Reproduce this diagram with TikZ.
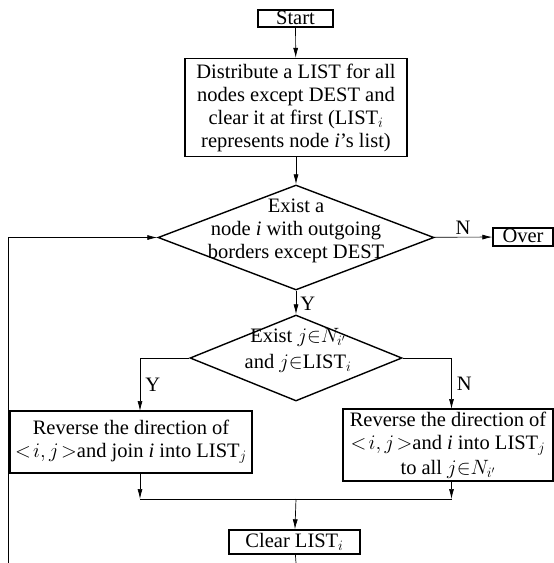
\documentclass[tikz,border=0pt]{standalone}
\usepackage{fontspec}
\setmainfont{Liberation Serif}
\usetikzlibrary{shapes.geometric,arrows.meta}
\tikzset{
	stepbox/.style={draw, line width=1.4pt, inner sep=0pt, align=center},
	decision/.style={draw, diamond, line width=1.4pt, inner sep=0pt},
	flow/.style={line width=0.7pt, -{Latex[length=10pt,width=5pt]}},
	link/.style={line width=0.7pt},
	tag/.style={inner sep=0pt, align=center},
}

\begin{document}
\begin{tikzpicture}[x=1pt, y=-1pt, font=\fontsize{20.5}{23}\selectfont]
			%%%%% START %%%%%
			\useasboundingbox (0, 0) rectangle (554, 563);
			
			\node[stepbox, minimum width=75pt, minimum height=17pt, text height=13pt, text depth=1pt] (start) at (295.5, 18.5) {Start};
			\node[stepbox, minimum width=222pt, minimum height=98pt] (dist) at (296, 107.5) {Distribute a LIST for all\\nodes except DEST and\\clear it at first (LIST$_i$\\represents node \textit{i}’s list)};
			
			\node[decision, minimum width=276pt, minimum height=105pt] (q1) at (296, 237.5) {};
			\node[tag] (q1text) at (296, 231) {Exist a\\node \textit{i} with outgoing\\borders except DEST};
			\node[stepbox, minimum width=60pt, minimum height=18pt, text height=13pt, text depth=2pt] (over) at (523, 237) {Over};
			
			\node[decision, minimum width=212pt, minimum height=86pt] (q2) at (296, 358) {};
			\node[tag] (q2text) at (298, 350) {Exist $j{\in}N_{i'}$\\[3pt]and $j{\in}$LIST$_i$};
			
			\node[stepbox, minimum width=242pt, minimum height=62pt] (yes) at (131, 442) {Reverse the direction of\\$<\!i,j\!>$and join \textit{i} into LIST$_j$};
			\node[stepbox, minimum width=210pt, minimum height=72pt] (no) at (448, 445) {Reverse the direction of\\$<\!i,j\!>$and \textit{i} into LIST$_j$\\[2pt]to all $j{\in}N_{i'}$};
			\node[stepbox, minimum width=131pt, minimum height=24pt] (clear) at (294.5, 542) {Clear LIST$_i$};
			
			\coordinate (ylane) at (140, 411);
			\coordinate (nlane) at (451.5, 409);
			\coordinate (ymerge) at (140, 499);
			\coordinate (nmerge) at (451.5, 499);
			\coordinate (merge) at (296, 499);
			\coordinate (cend) at (296, 563);
			\coordinate (lend) at (8, 563);
			
			\draw[flow] (start) -- (dist);
			\draw[flow] (dist) -- (q1);
			\draw[flow] (q1) -- node[tag, above, yshift=2pt] {N} (over);
			\draw[flow] (q1.south) -- node[tag, right, xshift=4pt, yshift=-1pt] {Y} (q2.north);
			
			\draw[flow] (q2.west) -| node[tag, pos=0.75, right, xshift=5pt] {Y} (ylane);
			\draw[flow] (q2.east) -| node[tag, pos=0.75, right, xshift=5pt] {N} (nlane);
			
			\draw[flow] (ylane |- yes.south) -- (ymerge);
			\draw[flow] (nlane |- no.south) -- (nmerge);
			\draw[link] (ymerge) -- (nmerge);
			\draw[flow] (merge) -- (clear);
			
			\draw[link] (clear) -- (cend);
			\draw[flow] (lend) |- (q1.west);
			%%%%% END %%%%%
\end{tikzpicture}
\end{document}
